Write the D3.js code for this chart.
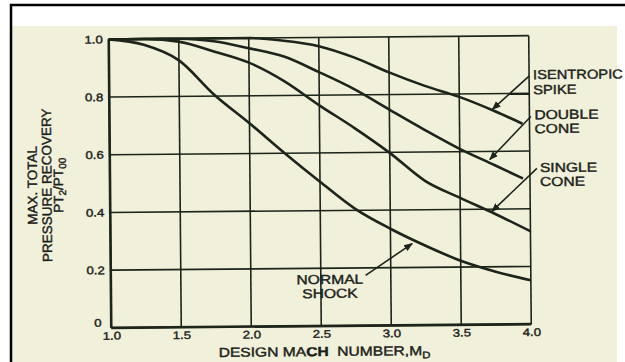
<!DOCTYPE html>
<html>
<head>
<meta charset="utf-8">
<script src="https://cdn.jsdelivr.net/npm/d3@7"></script>
<style>
  html, body { margin: 0; padding: 0; background: #fff; }
  svg { display: block; }
  text { font-family: "Liberation Sans", Arial, sans-serif; fill: #1c221a; stroke: #1c221a; stroke-width: 0.4px; }
</style>
</head>
<body>
<script>
// Chart values
const machTicks = [1.0, 1.5, 2.0, 2.5, 3.0, 3.5, 4.0];
const recoveryTicks = [0, 0.2, 0.4, 0.6, 0.8, 1.0];

const mach = [1.0, 1.25, 1.5, 1.75, 2.0, 2.25, 2.5, 2.75, 3.0, 3.25, 3.5, 3.75, 4.0];
const normalShock = [1.0, 0.98, 0.925, 0.805, 0.705, 0.60, 0.50, 0.405, 0.335, 0.275, 0.222, 0.183, 0.152];
const singleCone = [1.0, 1.0, 0.99, 0.955, 0.915, 0.85, 0.765, 0.685, 0.598, 0.50, 0.44, 0.383, 0.322];

const machShort = [1.0, 1.25, 1.5, 1.75, 2.0, 2.25, 2.5, 2.75, 3.0, 3.25, 3.5, 3.75, 3.95];
const doubleCone = [1.0, 1.0, 1.0, 0.99, 0.965, 0.935, 0.88, 0.82, 0.748, 0.677, 0.61, 0.552, 0.505];
const isentropicSpike = [1.0, 1.0, 1.0, 1.0, 1.0, 0.99, 0.97, 0.93, 0.877, 0.83, 0.79, 0.74, 0.695];

const W = 625, H = 362;
const margin = { left: 110, right: 95, top: 37.5, bottom: 36 };
const ink = "#1c241b";
const stretch = 1.2; // the scan is stretched sideways

const svg = d3.select("body").append("svg")
    .attr("width", W)
    .attr("height", H);

// paper background and outer frame
svg.append("rect")
    .attr("x", 12).attr("y", 26)
    .attr("width", 605).attr("height", 340)
    .attr("fill", "#f1f0da");
svg.append("rect")
    .attr("x", 11).attr("y", 5)
    .attr("width", 700).attr("height", 400)
    .attr("fill", "none")
    .attr("stroke", "#000")
    .attr("stroke-width", 2.5);

const x = d3.scaleLinear().domain([1, 4]).range([margin.left, W - margin.right]);
const y = d3.scaleLinear().domain([0, 1]).range([H - margin.bottom, margin.top]);

// the scan is tilted a little
const g = svg.append("g")
    .attr("transform", "rotate(-0.5, 320, 182)");

svg.append("defs").append("marker")
    .attr("id", "arrow")
    .attr("viewBox", "0 0 10 10")
    .attr("refX", 9).attr("refY", 5)
    .attr("markerWidth", 9).attr("markerHeight", 9)
    .attr("markerUnits", "userSpaceOnUse")
    .attr("orient", "auto")
    .append("path")
    .attr("d", "M0,1 L10,5 L0,9 Z")
    .attr("fill", ink);

// grid
g.append("g")
    .selectAll("line")
    .data(machTicks)
    .enter()
    .append("line")
    .attr("x1", function(d) { return x(d); })
    .attr("x2", function(d) { return x(d); })
    .attr("y1", y(0))
    .attr("y2", y(1))
    .attr("stroke", ink)
    .attr("stroke-width", 1.6);

g.append("g")
    .selectAll("line")
    .data(recoveryTicks)
    .enter()
    .append("line")
    .attr("x1", x(1))
    .attr("x2", x(4))
    .attr("y1", function(d) { return y(d); })
    .attr("y2", function(d) { return y(d); })
    .attr("stroke", ink)
    .attr("stroke-width", 1.6);

// heavier axes
g.append("line")
    .attr("x1", x(1)).attr("x2", x(1))
    .attr("y1", y(0)).attr("y2", y(1))
    .attr("stroke", ink).attr("stroke-width", 2.6);
g.append("line")
    .attr("x1", x(1)).attr("x2", x(4))
    .attr("y1", y(0)).attr("y2", y(0))
    .attr("stroke", ink).attr("stroke-width", 2.6);

// tick labels via axes
const xAxis = g.append("g")
    .attr("transform", "translate(0," + y(0) + ")")
    .call(d3.axisBottom(x).tickValues(machTicks).tickSize(0).tickPadding(4)
        .tickFormat(d3.format(".1f")));
const yAxis = g.append("g")
    .attr("transform", "translate(" + x(1) + ",0)")
    .call(d3.axisLeft(y).tickValues(recoveryTicks).tickSize(0).tickPadding(5)
        .tickFormat(function(d) { return d === 0 ? "0" : d3.format(".1f")(d); }));
[xAxis, yAxis].forEach(function(a) {
    a.select(".domain").remove();
    a.selectAll("text")
        .style("font-size", "11px")
        .style("font-family", "Liberation Sans, Arial, sans-serif")
        .attr("fill", ink)
        .attr("transform", "scale(" + stretch + ",1)");
});
yAxis.selectAll(".tick")
    .filter(function(d) { return d === 0; })
    .select("text").attr("dy", "-0.15em").attr("x", -8);

// curves
const line = d3.line()
    .x(function(d) { return x(d[0]); })
    .y(function(d) { return y(d[1]); })
    .curve(d3.curveMonotoneX);

const curves = [
    d3.zip(mach, normalShock),
    d3.zip(mach, singleCone),
    d3.zip(machShort, doubleCone),
    d3.zip(machShort, isentropicSpike)
];

g.selectAll("path.curve")
    .data(curves)
    .enter()
    .append("path")
    .attr("class", "curve")
    .attr("d", line)
    .attr("fill", "none")
    .attr("stroke", ink)
    .attr("stroke-width", 2.6);

// annotations: label lines, leader start and arrow tip (data units)
const notes = [
    { lines: ["ISENTROPIC", "SPIKE"], tx: 534, ty: 81, sx: 1.13, gap: 15, anchor: "start", from: [4.0, 0.86], to: [3.736, 0.746] },
    { lines: ["DOUBLE", "CONE"], tx: 535, ty: 121, sx: stretch, gap: 14, anchor: "start", from: [4.01, 0.72], to: [3.714, 0.572] },
    { lines: ["SINGLE", "CONE"], tx: 540, ty: 174, sx: stretch, gap: 14, anchor: "start", from: [4.05, 0.54], to: [3.726, 0.392] },
    { lines: ["NORMAL", "SHOCK"], tx: 329, ty: 284, sx: stretch, gap: 14, anchor: "middle", from: [2.82, 0.174], to: [3.155, 0.283] }
];

g.selectAll("line.leader")
    .data(notes)
    .enter()
    .append("line")
    .attr("class", "leader")
    .attr("x1", function(d) { return x(d.from[0]); })
    .attr("y1", function(d) { return y(d.from[1]); })
    .attr("x2", function(d) { return x(d.to[0]); })
    .attr("y2", function(d) { return y(d.to[1]); })
    .attr("stroke", ink)
    .attr("stroke-width", 1.6)
    .attr("marker-end", "url(#arrow)");

// one text element per label line
notes.forEach(function(n) {
    n.lines.forEach(function(s, i) {
        g.append("text")
            .attr("transform", "translate(" + n.tx + "," + (n.ty + i * n.gap) + ") scale(" + n.sx + ",1)")
            .attr("text-anchor", n.anchor)
            .style("font-size", "13px")
            .text(s);
    });
});

// x axis title
const xt = g.append("text")
    .attr("transform", "translate(323,356) scale(" + stretch + ",1)")
    .attr("text-anchor", "middle")
    .style("font-size", "13px");
xt.append("tspan").text("DESIGN MA");
xt.append("tspan").style("font-weight", "bold").text("CH");
xt.append("tspan").attr("xml:space", "preserve").text("  NUMBER,M");
xt.append("tspan").attr("dy", 3).style("font-size", "9.5px").text("D");

// y axis title, three rotated lines
const ytitle = g.append("g").attr("transform", "translate(32,183) rotate(-90)");
ytitle.append("text").attr("text-anchor", "middle").attr("y", 5)
    .style("font-size", "13.5px").text("MAX. TOTAL");
ytitle.append("text").attr("text-anchor", "middle").attr("y", 19.5)
    .style("font-size", "13.5px").text("PRESSURE RECOVERY");
const yt3 = ytitle.append("text").attr("text-anchor", "middle").attr("y", 31)
    .style("font-size", "13.5px");
yt3.append("tspan").text("PT");
yt3.append("tspan").attr("dy", 3).style("font-size", "10px").text("2");
yt3.append("tspan").attr("dy", -3).text("/PT");
yt3.append("tspan").attr("dy", 3).style("font-size", "10px").text("00");
</script>
</body>
</html>
